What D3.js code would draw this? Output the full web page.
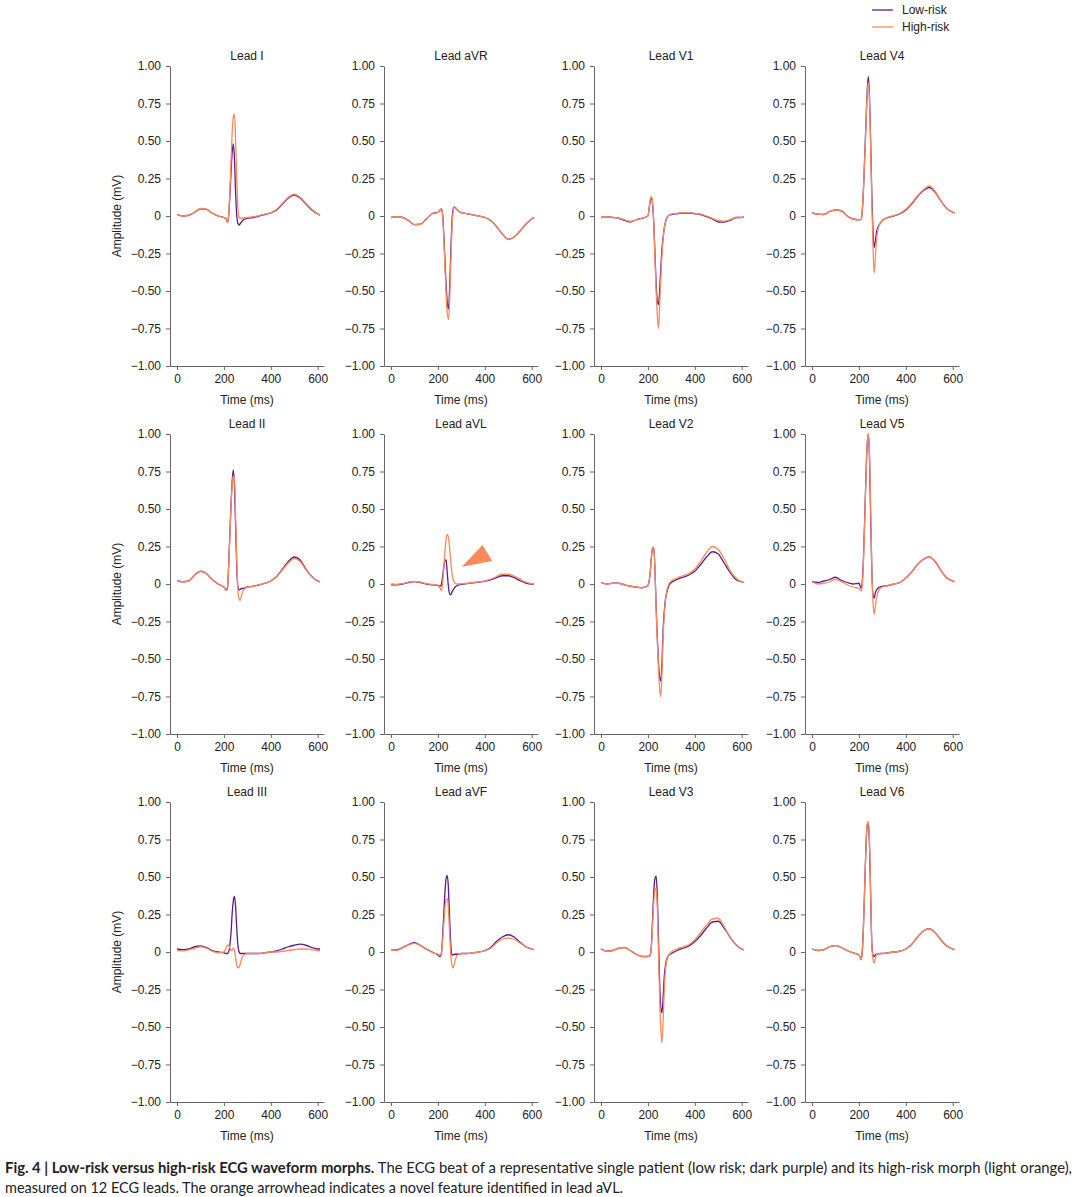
<!DOCTYPE html>
<html>
<head>
<meta charset="utf-8">
<script src="https://cdn.jsdelivr.net/npm/d3@7"></script>
<style>
    body { margin: 0; background: #fff; }
    svg { display: block; }
    .axis text { font-family: "Liberation Sans", Arial, sans-serif; font-size: 12px; fill: #222; }
    .axis path, .axis line { stroke: #666; stroke-width: 1; }
    .label { font-family: "Liberation Sans", Arial, sans-serif; font-size: 12px; fill: #222; }
    .caption { font-family: Lato, "Open Sans", sans-serif; font-size: 15px; fill: #222; }
</style>
</head>
<body>
<svg id="chart"></svg>
<script>
// sample times (ms) shared by every trace
const timeMs = [0, 25, 50, 75, 100, 125, 150, 175, 200, 210, 215, 220, 225, 230, 235, 240, 245, 250, 255, 260,
    265, 270, 275, 280, 290, 300, 325, 350, 375, 400, 425, 450, 475, 500, 525, 550, 575, 600, 610];

const leadNames = ["Lead I", "Lead aVR", "Lead V1", "Lead V4",
    "Lead II", "Lead aVL", "Lead V2", "Lead V5",
    "Lead III", "Lead aVF", "Lead V3", "Lead V6"];

const seriesNames = ["Low-risk", "High-risk"];
const yTicks = [-1, -0.75, -0.5, -0.25, 0, 0.25, 0.5, 0.75, 1];
const xTicks = [0, 200, 400, 600];

// amplitudes (mV), low-risk beat and high-risk morph
const leadI_low = [0.01, 0.0, 0.005, 0.025, 0.048, 0.045, 0.02, 0.0, -0.01, -0.02, -0.04, 0.0, 0.12, 0.28, 0.42, 0.48, 0.38, 0.15, 0.0, -0.05,
    -0.06, -0.05, -0.04, -0.03, -0.02, -0.015, -0.01, 0.0, 0.01, 0.02, 0.04, 0.08, 0.12, 0.14, 0.12, 0.08, 0.04, 0.015, 0.005];
const leadI_high = [0.01, 0.0, 0.005, 0.025, 0.05, 0.045, 0.02, 0.0, -0.01, -0.02, -0.045, 0.0, 0.15, 0.35, 0.55, 0.66, 0.68, 0.5, 0.25, 0.05,
    -0.01, -0.015, -0.015, -0.015, -0.012, -0.01, -0.005, 0.002, 0.012, 0.022, 0.045, 0.085, 0.125, 0.145, 0.125, 0.085, 0.045, 0.015, 0.005];

const leadAVR_low = [-0.01, -0.005, -0.01, -0.03, -0.058, -0.055, -0.02, 0.015, 0.025, 0.04, 0.048, 0.01, -0.12, -0.3, -0.46, -0.58, -0.62, -0.48, -0.24, -0.04,
    0.045, 0.06, 0.055, 0.045, 0.03, 0.022, 0.015, 0.008, 0.0, -0.01, -0.03, -0.07, -0.12, -0.155, -0.14, -0.1, -0.055, -0.02, -0.01];
const leadAVR_high = [-0.01, -0.005, -0.01, -0.03, -0.058, -0.055, -0.02, 0.015, 0.025, 0.04, 0.048, 0.01, -0.14, -0.34, -0.52, -0.65, -0.69, -0.57, -0.32, -0.08,
    0.03, 0.058, 0.055, 0.045, 0.03, 0.022, 0.015, 0.008, 0.0, -0.01, -0.03, -0.07, -0.12, -0.155, -0.14, -0.1, -0.055, -0.02, -0.01];

const leadV1_low = [-0.01, -0.005, -0.01, -0.015, -0.03, -0.04, -0.025, -0.015, 0.0, 0.1, 0.12, 0.08, -0.05, -0.25, -0.45, -0.57, -0.59, -0.5, -0.35, -0.22,
    -0.14, -0.08, -0.04, -0.015, 0.005, 0.01, 0.015, 0.02, 0.02, 0.015, 0.01, -0.005, -0.02, -0.04, -0.04, -0.03, -0.01, -0.01, -0.005];
const leadV1_high = [-0.01, -0.005, -0.01, -0.015, -0.025, -0.035, -0.025, -0.015, 0.0, 0.11, 0.13, 0.09, -0.05, -0.28, -0.5, -0.66, -0.75, -0.6, -0.42, -0.26,
    -0.15, -0.08, -0.04, -0.015, 0.005, 0.012, 0.018, 0.022, 0.022, 0.018, 0.012, 0.0, -0.015, -0.03, -0.035, -0.025, -0.01, -0.01, -0.005];

const leadV4_low = [0.02, 0.012, 0.01, 0.03, 0.04, 0.035, 0.0, -0.02, -0.025, -0.02, 0.05, 0.2, 0.4, 0.62, 0.82, 0.93, 0.8, 0.5, 0.15, -0.1,
    -0.21, -0.17, -0.11, -0.08, -0.05, -0.03, -0.01, 0.0, 0.015, 0.04, 0.08, 0.13, 0.17, 0.19, 0.16, 0.1, 0.05, 0.025, 0.02];
const leadV4_high = [0.02, 0.012, 0.01, 0.03, 0.04, 0.035, 0.0, -0.02, -0.025, -0.02, 0.05, 0.2, 0.4, 0.6, 0.8, 0.89, 0.78, 0.48, 0.1, -0.2,
    -0.38, -0.28, -0.16, -0.1, -0.05, -0.03, -0.008, 0.003, 0.018, 0.045, 0.085, 0.135, 0.175, 0.2, 0.165, 0.1, 0.05, 0.025, 0.02];

const leadII_low = [0.02, 0.015, 0.02, 0.06, 0.085, 0.07, 0.03, 0.0, -0.02, -0.04, -0.03, 0.12, 0.32, 0.52, 0.68, 0.76, 0.65, 0.38, 0.1, -0.02,
    -0.04, -0.035, -0.03, -0.03, -0.025, -0.02, -0.015, -0.005, 0.005, 0.02, 0.05, 0.1, 0.15, 0.18, 0.16, 0.1, 0.05, 0.02, 0.015];
const leadII_high = [0.02, 0.015, 0.02, 0.06, 0.085, 0.07, 0.03, 0.0, -0.02, -0.035, -0.02, 0.1, 0.3, 0.5, 0.66, 0.72, 0.7, 0.45, 0.15, -0.05,
    -0.1, -0.11, -0.08, -0.05, -0.03, -0.02, -0.015, -0.005, 0.005, 0.02, 0.048, 0.095, 0.14, 0.17, 0.15, 0.095, 0.048, 0.02, 0.015];

const leadAVL_low = [-0.005, -0.005, 0.0, 0.01, 0.016, 0.01, 0.0, -0.005, -0.01, -0.015, -0.005, 0.05, 0.11, 0.155, 0.16, 0.07, -0.02, -0.065, -0.073, -0.055,
    -0.04, -0.028, -0.018, -0.012, -0.006, -0.002, 0.003, 0.008, 0.013, 0.018, 0.028, 0.043, 0.055, 0.055, 0.042, 0.022, 0.006, 0.0, 0.0];
const leadAVL_high = [0.0, -0.002, 0.002, 0.012, 0.018, 0.012, 0.002, -0.003, -0.01, -0.03, -0.045, 0.0, 0.1, 0.22, 0.3, 0.33, 0.31, 0.24, 0.15, 0.07,
    0.03, 0.012, 0.005, 0.0, 0.0, 0.002, 0.005, 0.01, 0.015, 0.02, 0.032, 0.05, 0.065, 0.065, 0.052, 0.032, 0.012, 0.003, 0.0];

const leadV2_low = [0.01, 0.0, 0.005, 0.005, -0.005, -0.015, -0.02, -0.025, -0.01, 0.08, 0.18, 0.24, 0.24, 0.1, -0.15, -0.35, -0.52, -0.62, -0.645, -0.52,
    -0.3, -0.18, -0.1, -0.06, -0.01, 0.01, 0.03, 0.045, 0.06, 0.085, 0.13, 0.18, 0.215, 0.2, 0.14, 0.08, 0.03, 0.015, 0.01];
const leadV2_high = [0.01, 0.0, 0.005, 0.005, -0.005, -0.015, -0.02, -0.025, -0.01, 0.08, 0.18, 0.245, 0.245, 0.1, -0.16, -0.38, -0.56, -0.7, -0.75, -0.6,
    -0.35, -0.2, -0.11, -0.05, 0.0, 0.02, 0.04, 0.055, 0.07, 0.1, 0.15, 0.21, 0.25, 0.23, 0.17, 0.09, 0.04, 0.015, 0.01];

const leadV5_low = [0.015, 0.01, 0.02, 0.03, 0.045, 0.025, 0.01, 0.0, 0.005, -0.03, 0.03, 0.2, 0.45, 0.72, 0.92, 1.0, 0.85, 0.45, 0.1, -0.07,
    -0.095, -0.06, -0.04, -0.03, -0.02, -0.015, -0.01, 0.0, 0.01, 0.04, 0.08, 0.13, 0.165, 0.18, 0.15, 0.09, 0.04, 0.02, 0.015];
const leadV5_high = [0.015, 0.0, 0.005, 0.015, 0.03, 0.015, -0.005, -0.02, -0.03, -0.045, 0.0, 0.18, 0.43, 0.7, 0.92, 1.0, 0.88, 0.52, 0.12, -0.12,
    -0.2, -0.15, -0.1, -0.06, -0.03, -0.02, -0.01, 0.0, 0.01, 0.04, 0.08, 0.13, 0.165, 0.18, 0.15, 0.09, 0.04, 0.02, 0.015];

const leadIII_low = [0.02, 0.015, 0.02, 0.035, 0.04, 0.03, 0.01, 0.0, -0.005, -0.01, -0.01, 0.0, 0.04, 0.12, 0.25, 0.34, 0.37, 0.3, 0.15, 0.04,
    0.0, -0.01, -0.01, -0.01, -0.01, -0.01, -0.01, -0.01, -0.005, 0.0, 0.008, 0.02, 0.035, 0.045, 0.052, 0.045, 0.03, 0.02, 0.02];
const leadIII_high = [0.01, 0.008, 0.015, 0.025, 0.035, 0.025, 0.005, -0.005, 0.0, 0.03, 0.045, 0.045, 0.03, 0.01, 0.01, 0.025, 0.01, -0.04, -0.09, -0.105,
    -0.1, -0.08, -0.05, -0.03, -0.015, -0.01, -0.01, -0.01, -0.005, 0.0, 0.0, 0.005, 0.01, 0.015, 0.02, 0.02, 0.015, 0.01, 0.01];

const leadAVF_low = [0.015, 0.015, 0.03, 0.05, 0.062, 0.045, 0.02, 0.0, -0.02, -0.03, -0.01, 0.1, 0.25, 0.4, 0.49, 0.51, 0.42, 0.22, 0.05, -0.02,
    -0.02, -0.015, -0.015, -0.015, -0.015, -0.01, -0.01, -0.005, 0.0, 0.01, 0.03, 0.07, 0.1, 0.115, 0.1, 0.065, 0.035, 0.02, 0.015];
const leadAVF_high = [0.015, 0.012, 0.028, 0.047, 0.058, 0.043, 0.018, -0.002, -0.015, -0.02, -0.005, 0.07, 0.18, 0.29, 0.35, 0.355, 0.28, 0.12, -0.02, -0.09,
    -0.105, -0.08, -0.05, -0.03, -0.015, -0.01, -0.01, -0.005, 0.0, 0.008, 0.025, 0.06, 0.085, 0.093, 0.085, 0.06, 0.035, 0.02, 0.015];

const leadV3_low = [0.02, 0.005, 0.01, 0.025, 0.03, 0.01, -0.015, -0.03, -0.03, -0.02, 0.05, 0.22, 0.4, 0.49, 0.505, 0.38, 0.1, -0.2, -0.37, -0.405,
    -0.3, -0.16, -0.09, -0.05, -0.02, -0.01, 0.01, 0.025, 0.04, 0.07, 0.11, 0.16, 0.2, 0.205, 0.16, 0.1, 0.05, 0.02, 0.015];
const leadV3_high = [0.02, 0.005, 0.01, 0.025, 0.03, 0.01, -0.015, -0.03, -0.03, -0.02, 0.04, 0.18, 0.33, 0.41, 0.425, 0.3, 0.0, -0.3, -0.52, -0.605,
    -0.45, -0.25, -0.12, -0.06, -0.02, 0.0, 0.02, 0.035, 0.05, 0.08, 0.13, 0.18, 0.22, 0.225, 0.17, 0.1, 0.05, 0.02, 0.015];

const leadV6_low = [0.02, 0.01, 0.015, 0.035, 0.042, 0.03, 0.01, -0.005, -0.02, -0.05, 0.02, 0.2, 0.45, 0.7, 0.84, 0.86, 0.72, 0.38, 0.06, -0.02,
    -0.03, -0.02, -0.015, -0.015, -0.01, -0.01, -0.005, 0.0, 0.005, 0.02, 0.05, 0.1, 0.14, 0.155, 0.13, 0.08, 0.04, 0.02, 0.015];
const leadV6_high = [0.02, 0.01, 0.015, 0.035, 0.042, 0.03, 0.01, -0.005, -0.02, -0.05, 0.02, 0.2, 0.45, 0.7, 0.85, 0.87, 0.75, 0.4, 0.06, -0.05,
    -0.075, -0.04, -0.02, -0.015, -0.01, -0.01, -0.005, 0.0, 0.005, 0.02, 0.05, 0.1, 0.14, 0.155, 0.13, 0.08, 0.04, 0.02, 0.015];

// orange arrowhead in lead aVL: [time ms, amplitude mV]
const arrowhead = [[302, 0.115], [390, 0.26], [432, 0.153]];

const lowSeries = [leadI_low, leadAVR_low, leadV1_low, leadV4_low, leadII_low, leadAVL_low,
    leadV2_low, leadV5_low, leadIII_low, leadAVF_low, leadV3_low, leadV6_low];
const highSeries = [leadI_high, leadAVR_high, leadV1_high, leadV4_high, leadII_high, leadAVL_high,
    leadV2_high, leadV5_high, leadIII_high, leadAVF_high, leadV3_high, leadV6_high];

const config = {
    width: 1080,
    height: 1197,
    colLeft: [170, 384, 594, 805],
    rowTop: [66, 434, 802],
    plotWidth: 154,
    plotHeight: 300,
    colors: ["#5c1a8e", "#fa8a5c"]
};

const svg = d3.select("#chart")
    .attr("width", config.width)
    .attr("height", config.height);

const xScale = d3.scaleLinear().domain([-30, 627]).range([0, config.plotWidth]);
const yScale = d3.scaleLinear().domain([-1, 1]).range([config.plotHeight, 0]);

const fmtY = d => d === 0 ? "0" : d3.format(".2f")(d).replace("-", "\u2212");

const line = d3.line()
    .x(d => xScale(d[0]))
    .y(d => yScale(d[1]))
    .curve(d3.curveMonotoneX);

const panels = leadNames.map((name, i) => ({
    name: name,
    row: Math.floor(i / 4),
    col: i % 4,
    series: [lowSeries[i], highSeries[i]]
}));

panels.forEach(p => {
    const g = svg.append("g")
        .attr("class", "panel")
        .attr("transform", `translate(${config.colLeft[p.col]},${config.rowTop[p.row]})`);

    g.append("g")
        .attr("class", "axis y-axis")
        .call(d3.axisLeft(yScale).tickValues(yTicks).tickFormat(fmtY).tickSize(4).tickSizeOuter(0).tickPadding(5));

    g.append("g")
        .attr("class", "axis x-axis")
        .attr("transform", `translate(0,${config.plotHeight})`)
        .call(d3.axisBottom(xScale).tickValues(xTicks).tickSize(4).tickSizeOuter(0).tickPadding(4));

    g.append("text")
        .attr("class", "label")
        .attr("x", config.plotWidth / 2)
        .attr("y", -6)
        .attr("text-anchor", "middle")
        .text(p.name);

    g.append("text")
        .attr("class", "label")
        .attr("x", config.plotWidth / 2)
        .attr("y", config.plotHeight + 38)
        .attr("text-anchor", "middle")
        .text("Time (ms)");

    if (p.col === 0) {
        g.append("text")
            .attr("class", "label")
            .attr("transform", `translate(-49,${config.plotHeight / 2}) rotate(-90)`)
            .attr("text-anchor", "middle")
            .text("Amplitude (mV)");
    }

    p.series.forEach((values, k) => {
        g.append("path")
            .datum(timeMs.map((t, j) => [t, values[j]]))
            .attr("fill", "none")
            .attr("stroke", config.colors[k])
            .attr("stroke-width", 1.3)
            .attr("stroke-linejoin", "round")
            .attr("d", line);
    });

    if (p.name === "Lead aVL") {
        g.append("path")
            .attr("d", "M" + arrowhead.map(d => [xScale(d[0]), yScale(d[1])].join(",")).join("L") + "Z")
            .attr("fill", config.colors[1]);
    }
});

// legend
const legend = svg.append("g").attr("class", "legend").attr("transform", "translate(872,10)");
seriesNames.forEach((name, k) => {
    legend.append("line")
        .attr("x1", 0).attr("x2", 21)
        .attr("y1", k * 17).attr("y2", k * 17)
        .attr("stroke", config.colors[k])
        .attr("stroke-width", 1.3);
    legend.append("text")
        .attr("class", "label")
        .attr("x", 30)
        .attr("y", k * 17 + 4)
        .text(name);
});

// caption
const cap1 = svg.append("text")
    .attr("class", "caption")
    .attr("x", 5)
    .attr("y", 1173)
    .attr("textLength", 1067)
    .attr("lengthAdjust", "spacingAndGlyphs");
cap1.append("tspan").attr("font-weight", 700).text("Fig. 4 | Low-risk versus high-risk ECG waveform morphs. ");
cap1.append("tspan").text("The ECG beat of a representative single patient (low risk; dark purple) and its high-risk morph (light orange),");

svg.append("text")
    .attr("class", "caption")
    .attr("x", 5)
    .attr("y", 1193)
    .attr("textLength", 618)
    .attr("lengthAdjust", "spacingAndGlyphs")
    .text("measured on 12 ECG leads. The orange arrowhead indicates a novel feature identified in lead aVL.");
</script>
</body>
</html>
